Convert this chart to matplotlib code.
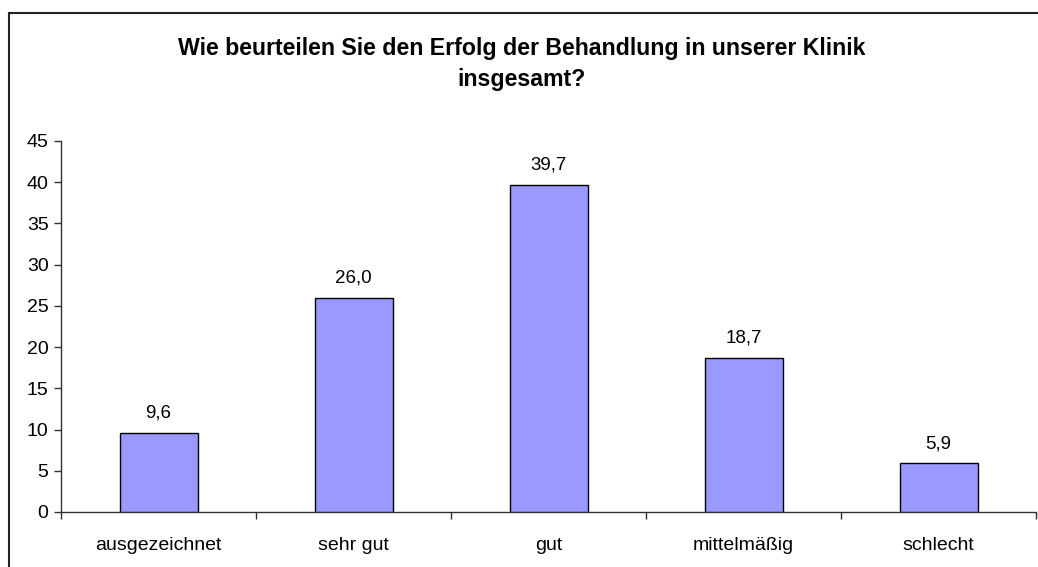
import matplotlib
matplotlib.use("Agg")
import matplotlib.pyplot as plt
from matplotlib.lines import Line2D

categories = ["ausgezeichnet", "sehr gut", "gut", "mittelmäßig", "schlecht"]
values = [9.6, 26.0, 39.7, 18.7, 5.9]
value_labels = ["9,6", "26,0", "39,7", "18,7", "5,9"]
yticks = [0, 5, 10, 15, 20, 25, 30, 35, 40, 45]
title = "Wie beurteilen Sie den Erfolg der Behandlung in unserer Klinik\ninsgesamt?"

plt.rcParams['font.family'] = ['Liberation Sans', 'DejaVu Sans']

W, H = 1038, 567
fig = plt.figure(figsize=(W / 100, H / 100), dpi=100)
ax = fig.add_axes([61 / W, 1 - 512 / H, (1036 - 61) / W, (512 - 141) / H])

x = list(range(len(categories)))
ax.bar(x, values, width=0.4, color="#9999FF", edgecolor="black", linewidth=1.0, zorder=3)
for xi, v, lab in zip(x, values, value_labels):
    ax.annotate(lab, (xi, v), xytext=(0, 8), textcoords="offset points",
                ha="center", va="bottom", fontsize=13.5)

ax.set_xlim(-0.5, len(categories) - 0.5)
ax.set_ylim(0, 45)
ax.set_yticks(yticks)
ax.set_yticklabels([str(t) for t in yticks], fontsize=14)
ax.set_xticks(x)
ax.set_xticklabels(categories, fontsize=14)
ax.tick_params(axis="x", length=0, pad=18)
ax.set_xticks([i - 0.5 for i in range(len(categories) + 1)], minor=True)
ax.tick_params(axis="x", which="minor", length=5, width=1, color="#333333", direction="out")
ax.tick_params(axis="y", length=5, width=1, color="#333333", direction="out", pad=4)
for s in ["top", "right"]:
    ax.spines[s].set_visible(False)
for s in ["left", "bottom"]:
    ax.spines[s].set_color("#333333")
    ax.spines[s].set_linewidth(1.0)

fig.text(522 / W, 1 - 64 / H, title, ha="center", va="center", fontsize=16.7,
         fontweight="bold", linespacing=1.45)

# outer chart frame (top and left edges visible)
fig.add_artist(Line2D([8.5 / W, 8.5 / W], [0, 1 - 13 / H], transform=fig.transFigure,
                      color="#222222", linewidth=1.5))
fig.add_artist(Line2D([8.5 / W, 1], [1 - 13 / H, 1 - 13 / H], transform=fig.transFigure,
                      color="#222222", linewidth=1.5))

fig.savefig("out.png", dpi=100)
